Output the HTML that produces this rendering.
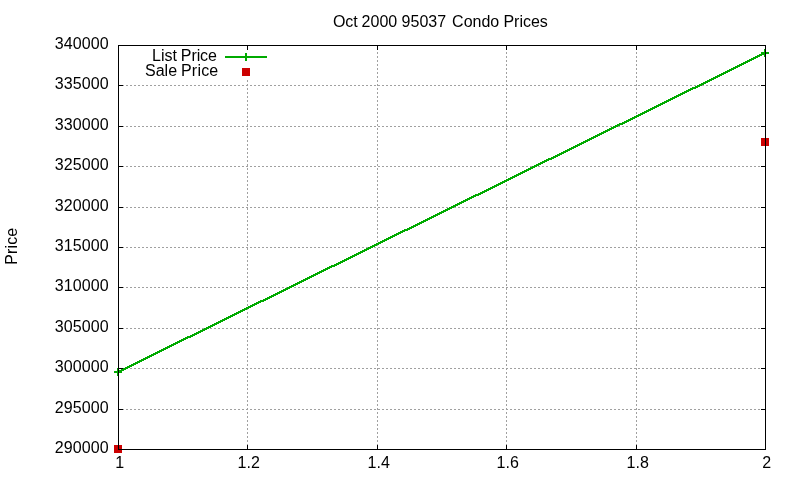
<!DOCTYPE html>
<html lang="en"><head><meta charset="utf-8"><title>Oct 2000 95037 Condo Prices</title>
<style>html,body{margin:0;padding:0;background:#fff;}body{width:800px;height:480px;overflow:hidden;}svg{display:block;}text{font-family:"Liberation Sans",Arial,sans-serif;font-size:16px;fill:#000;}.yt{letter-spacing:0.1px;}</style></head><body>
<svg width="800" height="480" viewBox="0 0 800 480">
<rect x="0" y="0" width="800" height="480" fill="#ffffff"/>
<g shape-rendering="crispEdges" stroke="#a0a0a0" stroke-width="1" stroke-dasharray="2 2" fill="none">
<line x1="118" y1="409.5" x2="765" y2="409.5"/>
<line x1="118" y1="368.5" x2="765" y2="368.5"/>
<line x1="118" y1="328.5" x2="765" y2="328.5"/>
<line x1="118" y1="287.5" x2="765" y2="287.5"/>
<line x1="118" y1="247.5" x2="765" y2="247.5"/>
<line x1="118" y1="207.5" x2="765" y2="207.5"/>
<line x1="118" y1="166.5" x2="765" y2="166.5"/>
<line x1="118" y1="126.5" x2="765" y2="126.5"/>
<line x1="118" y1="85.5" x2="765" y2="85.5"/>
<line x1="247.5" y1="450" x2="247.5" y2="80"/>
<line x1="377.5" y1="450" x2="377.5" y2="45"/>
<line x1="506.5" y1="450" x2="506.5" y2="45"/>
<line x1="636.5" y1="450" x2="636.5" y2="45"/>
</g>
<g shape-rendering="crispEdges" fill="#00aa00" stroke="none">
<path d="M117 371H119V370H121V369H123V368H125V367H127V366H129V365H131V364H133V363H135V362H137V361H139V360H141V359H143V358H145V357H147V356H149V355H151V354H153V353H155V352H157V351H159V350H161V349H163V348H165V347H167V346H169V345H171V344H173V343H175V342H177V341H179V340H181V339H183V338H185V337H187V336H190V335H192V334H194V333H196V332H198V331H200V330H202V329H204V328H206V327H208V326H210V325H212V324H214V323H216V322H218V321H220V320H222V319H224V318H226V317H228V316H230V315H232V314H234V313H236V312H238V311H240V310H242V309H244V308H246V307H248V306H250V305H252V304H254V303H256V302H258V301H260V300H263V299H265V298H267V297H269V296H271V295H273V294H275V293H277V292H279V291H281V290H283V289H285V288H287V287H289V286H291V285H293V284H295V283H297V282H299V281H301V280H303V279H305V278H307V277H309V276H311V275H313V274H315V273H317V272H319V271H321V270H323V269H325V268H327V267H329V266H331V265H334V264H336V263H338V262H340V261H342V260H344V259H346V258H348V257H350V256H352V255H354V254H356V253H358V252H360V251H362V250H364V249H366V248H368V247H370V246H372V245H374V244H376V243H378V242H380V241H382V240H384V239H386V238H388V237H390V236H392V235H394V234H396V233H398V232H400V231H402V230H404V229H407V228H409V227H411V226H413V225H415V224H417V223H419V222H421V221H423V220H425V219H427V218H429V217H431V216H433V215H435V214H437V213H439V212H441V211H443V210H445V209H447V208H449V207H451V206H453V205H455V204H457V203H459V202H461V201H463V200H465V199H467V198H469V197H471V196H473V195H475V194H478V193H480V192H482V191H484V190H486V189H488V188H490V187H492V186H494V185H496V184H498V183H500V182H502V181H504V180H506V179H508V178H510V177H512V176H514V175H516V174H518V173H520V172H522V171H524V170H526V169H528V168H530V167H532V166H534V165H536V164H538V163H540V162H542V161H544V160H546V159H548V158H551V157H553V156H555V155H557V154H559V153H561V152H563V151H565V150H567V149H569V148H571V147H573V146H575V145H577V144H579V143H581V142H583V141H585V140H587V139H589V138H591V137H593V136H595V135H597V134H599V133H601V132H603V131H605V130H607V129H609V128H611V127H613V126H615V125H617V124H619V123H622V122H624V121H626V120H628V119H630V118H632V117H634V116H636V115H638V114H640V113H642V112H644V111H646V110H648V109H650V108H652V107H654V106H656V105H658V104H660V103H662V102H664V101H666V100H668V99H670V98H672V97H674V96H676V95H678V94H680V93H682V92H684V91H686V90H688V89H690V88H692V87H695V86H697V85H699V84H701V83H703V82H705V81H707V80H709V79H711V78H713V77H715V76H717V75H719V74H721V73H723V72H725V71H727V70H729V69H731V68H733V67H735V66H737V65H739V64H741V63H743V62H745V61H747V60H749V59H751V58H753V57H755V56H757V55H759V54H761V53H763V52H766V54H764V55H762V56H760V57H758V58H756V59H754V60H752V61H750V62H748V63H746V64H744V65H742V66H740V67H738V68H736V69H734V70H732V71H730V72H728V73H726V74H724V75H722V76H720V77H718V78H716V79H714V80H712V81H710V82H708V83H706V84H704V85H702V86H700V87H698V88H696V89H693V90H691V91H689V92H687V93H685V94H683V95H681V96H679V97H677V98H675V99H673V100H671V101H669V102H667V103H665V104H663V105H661V106H659V107H657V108H655V109H653V110H651V111H649V112H647V113H645V114H643V115H641V116H639V117H637V118H635V119H633V120H631V121H629V122H627V123H625V124H623V125H620V126H618V127H616V128H614V129H612V130H610V131H608V132H606V133H604V134H602V135H600V136H598V137H596V138H594V139H592V140H590V141H588V142H586V143H584V144H582V145H580V146H578V147H576V148H574V149H572V150H570V151H568V152H566V153H564V154H562V155H560V156H558V157H556V158H554V159H552V160H549V161H547V162H545V163H543V164H541V165H539V166H537V167H535V168H533V169H531V170H529V171H527V172H525V173H523V174H521V175H519V176H517V177H515V178H513V179H511V180H509V181H507V182H505V183H503V184H501V185H499V186H497V187H495V188H493V189H491V190H489V191H487V192H485V193H483V194H481V195H479V196H476V197H474V198H472V199H470V200H468V201H466V202H464V203H462V204H460V205H458V206H456V207H454V208H452V209H450V210H448V211H446V212H444V213H442V214H440V215H438V216H436V217H434V218H432V219H430V220H428V221H426V222H424V223H422V224H420V225H418V226H416V227H414V228H412V229H410V230H408V231H405V232H403V233H401V234H399V235H397V236H395V237H393V238H391V239H389V240H387V241H385V242H383V243H381V244H379V245H377V246H375V247H373V248H371V249H369V250H367V251H365V252H363V253H361V254H359V255H357V256H355V257H353V258H351V259H349V260H347V261H345V262H343V263H341V264H339V265H337V266H335V267H332V268H330V269H328V270H326V271H324V272H322V273H320V274H318V275H316V276H314V277H312V278H310V279H308V280H306V281H304V282H302V283H300V284H298V285H296V286H294V287H292V288H290V289H288V290H286V291H284V292H282V293H280V294H278V295H276V296H274V297H272V298H270V299H268V300H266V301H264V302H261V303H259V304H257V305H255V306H253V307H251V308H249V309H247V310H245V311H243V312H241V313H239V314H237V315H235V316H233V317H231V318H229V319H227V320H225V321H223V322H221V323H219V324H217V325H215V326H213V327H211V328H209V329H207V330H205V331H203V332H201V333H199V334H197V335H195V336H193V337H191V338H188V339H186V340H184V341H182V342H180V343H178V344H176V345H174V346H172V347H170V348H168V349H166V350H164V351H162V352H160V353H158V354H156V355H154V356H152V357H150V358H148V359H146V360H144V361H142V362H140V363H138V364H136V365H134V366H132V367H130V368H128V369H126V370H124V371H122V372H120V373H117Z"/>
<rect x="114" y="371" width="8" height="2"/><rect x="117" y="368" width="2" height="8"/>
<rect x="761" y="52" width="8" height="2"/><rect x="764" y="49" width="2" height="8"/>
<rect x="225" y="56" width="42" height="2"/>
<rect x="242" y="56" width="8" height="2"/><rect x="245" y="53" width="2" height="8"/>
</g>
<g shape-rendering="crispEdges" fill="#cc0000">
<rect x="114" y="445" width="8" height="8"/>
<rect x="761" y="138" width="8" height="8"/>
<rect x="242" y="68" width="8" height="8"/>
</g>
<g shape-rendering="crispEdges" stroke="#000" stroke-width="1" fill="none">
<rect x="118.5" y="45.5" width="647" height="404"/>
<path d="M118 409.5h5M766 409.5h-5M118 368.5h5M766 368.5h-5M118 328.5h5M766 328.5h-5M118 287.5h5M766 287.5h-5M118 247.5h5M766 247.5h-5M118 207.5h5M766 207.5h-5M118 166.5h5M766 166.5h-5M118 126.5h5M766 126.5h-5M118 85.5h5M766 85.5h-5M247.5 450v-5M247.5 45v5M377.5 450v-5M377.5 45v5M506.5 450v-5M506.5 45v5M636.5 450v-5M636.5 45v5"/>
</g>
<g>
<text y="26.5"><tspan x="332.9">Oct </tspan><tspan x="361.6">2000 </tspan><tspan x="401.6">95037 </tspan><tspan x="452.1">Condo </tspan><tspan x="503.4">Prices</tspan></text>
<text class="yt" x="108.7" y="453" text-anchor="end">290000</text>
<text class="yt" x="108.7" y="413" text-anchor="end">295000</text>
<text class="yt" x="108.7" y="372" text-anchor="end">300000</text>
<text class="yt" x="108.7" y="332" text-anchor="end">305000</text>
<text class="yt" x="108.7" y="291" text-anchor="end">310000</text>
<text class="yt" x="108.7" y="251" text-anchor="end">315000</text>
<text class="yt" x="108.7" y="211" text-anchor="end">320000</text>
<text class="yt" x="108.7" y="170" text-anchor="end">325000</text>
<text class="yt" x="108.7" y="130" text-anchor="end">330000</text>
<text class="yt" x="108.7" y="89" text-anchor="end">335000</text>
<text class="yt" x="108.7" y="49" text-anchor="end">340000</text>
<text x="119.7" y="468" text-anchor="middle">1</text>
<text x="248.7" y="468" text-anchor="middle">1.2</text>
<text x="378.7" y="468" text-anchor="middle">1.4</text>
<text x="507.7" y="468" text-anchor="middle">1.6</text>
<text x="637.7" y="468" text-anchor="middle">1.8</text>
<text x="766.7" y="468" text-anchor="middle">2</text>
<text y="61"><tspan x="152.1">List </tspan><tspan x="180.85" style="letter-spacing:-0.1px">Price</tspan></text>
<text y="76"><tspan x="145">Sale </tspan><tspan x="181" style="letter-spacing:0.2px">Price</tspan></text>
<text transform="translate(17 264.8) rotate(-90)" style="letter-spacing:0.15px">Price</text>
</g>
</svg></body></html>
